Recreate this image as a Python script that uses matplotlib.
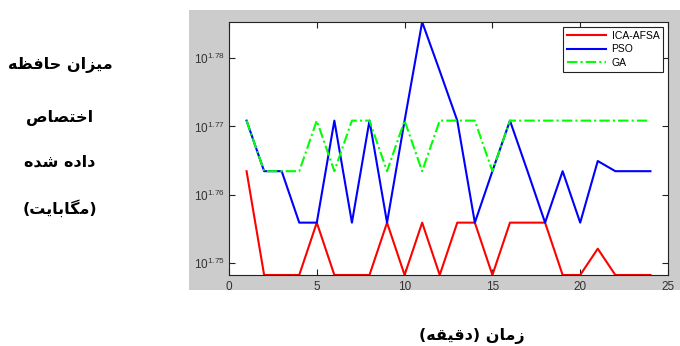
import matplotlib
matplotlib.use("Agg")
import matplotlib.pyplot as plt
from matplotlib.patches import Rectangle
from matplotlib.ticker import FixedLocator, FixedFormatter, NullLocator

# ---------------- data ----------------
minutes = list(range(1, 25))
ica_afsa = [58, 56, 56, 56, 57, 56, 56, 56, 57, 56, 57, 56, 57, 57, 56, 57, 57, 57, 56, 56, 56.5, 56, 56, 56]
pso = [59, 58, 58, 57, 57, 59, 57, 59, 57, 59, 61, 60, 59, 57, 58, 59, 58, 57, 58, 57, 58.2, 58, 58, 58]
ga = [59, 58, 58, 58, 59, 58, 59, 59, 58, 59, 58, 59, 59, 59, 58, 59, 59, 59, 59, 59, 59, 59, 59, 59]
series_names = ["ICA-AFSA", "PSO", "GA"]
x_ticks = [0, 5, 10, 15, 20, 25]
y_tick_exponents = [1.75, 1.76, 1.77, 1.78]
y_label_lines = ["میزان حافظه", "اختصاص", "داده شده", "(مگابایت)"]
x_label = "زمان (دقیقه)"

# ------------- simple Arabic-script shaping for display -------------
FORMS = {
    'ا': ('\uFE8D', '\uFE8E', None, None),
    'ب': ('\uFE8F', '\uFE90', '\uFE91', '\uFE92'),
    'ت': ('\uFE95', '\uFE96', '\uFE97', '\uFE98'),
    'ح': ('\uFEA1', '\uFEA2', '\uFEA3', '\uFEA4'),
    'خ': ('\uFEA5', '\uFEA6', '\uFEA7', '\uFEA8'),
    'د': ('\uFEA9', '\uFEAA', None, None),
    'ز': ('\uFEAF', '\uFEB0', None, None),
    'ش': ('\uFEB5', '\uFEB6', '\uFEB7', '\uFEB8'),
    'ص': ('\uFEB9', '\uFEBA', '\uFEBB', '\uFEBC'),
    'ظ': ('\uFEC5', '\uFEC6', '\uFEC7', '\uFEC8'),
    'ف': ('\uFED1', '\uFED2', '\uFED3', '\uFED4'),
    'ق': ('\uFED5', '\uFED6', '\uFED7', '\uFED8'),
    'م': ('\uFEE1', '\uFEE2', '\uFEE3', '\uFEE4'),
    'ن': ('\uFEE5', '\uFEE6', '\uFEE7', '\uFEE8'),
    'ه': ('\uFEE9', '\uFEEA', '\uFEEB', '\uFEEC'),
    'ی': ('\uFBFC', '\uFBFD', '\uFBFE', '\uFBFF'),
    'گ': ('\uFB92', '\uFB93', '\uFB94', '\uFB95'),
}


def rtl(text):
    out = []
    n = len(text)
    for i, c in enumerate(text):
        if c not in FORMS:
            out.append(c)
            continue
        iso, fin, ini, med = FORMS[c]
        prev = text[i - 1] if i > 0 else ''
        nxt = text[i + 1] if i < n - 1 else ''
        pj = prev in FORMS and FORMS[prev][2] is not None
        nj = nxt in FORMS and ini is not None
        if pj and nj:
            out.append(med)
        elif pj:
            out.append(fin)
        elif nj:
            out.append(ini)
        else:
            out.append(iso)
    vis = ''.join(reversed(out))
    mirror = {'(': ')', ')': '('}
    return ''.join(mirror.get(ch, ch) for ch in vis)


plt.rcParams['font.family'] = ['Liberation Sans', 'DejaVu Sans']
plt.rcParams['mathtext.fontset'] = 'custom'
plt.rcParams['mathtext.rm'] = 'Liberation Sans'
plt.rcParams['mathtext.it'] = 'Liberation Sans'

W, H = 680, 346
fig = plt.figure(figsize=(W / 100, H / 100), dpi=100)
fig.patch.set_facecolor('white')
fig.patches.append(Rectangle((189 / W, 1 - 290 / H), 1 - 189 / W, 280 / H,
                             transform=fig.transFigure, facecolor='#cccccc',
                             edgecolor='none', zorder=-10))

ax = fig.add_axes([229 / W, 1 - 275 / H, (668 - 229) / W, (275 - 22) / H])
ax.set_zorder(5)
ax.set_facecolor('white')

lw = 1.5
ax.plot(minutes, ica_afsa, color=(1, 0, 0), lw=lw, label=series_names[0])
ax.plot(minutes, pso, color=(0, 0, 1), lw=lw, label=series_names[1])
ax.plot(minutes, ga, color=(0, 1, 0), lw=lw, dashes=(5, 1.5, 1, 1.5), label=series_names[2])

ax.set_yscale('log')
ax.set_xlim(0, 25)
ax.set_ylim(min(ica_afsa), max(pso))
ax.set_xticks(x_ticks)
ax.set_xticklabels([str(t) for t in x_ticks])
ax.yaxis.set_major_locator(FixedLocator([10 ** e for e in y_tick_exponents]))
ax.yaxis.set_major_formatter(FixedFormatter([r'$10^{%.2f}$' % e for e in y_tick_exponents]))
ax.yaxis.set_minor_locator(NullLocator())
ax.xaxis.set_minor_locator(NullLocator())

ax.tick_params(direction='in', length=4, width=0.8, top=True, right=True,
               colors='#222222', labelcolor='#333333')
ax.tick_params(axis='x', labelsize=8.5, pad=4)
ax.tick_params(axis='y', labelsize=8.5, pad=3)
for s in ax.spines.values():
    s.set_color('#222222')
    s.set_linewidth(0.8)

leg = ax.legend(loc='upper right', bbox_to_anchor=((663 - 229) / 439, (275 - 27) / 253),
                borderaxespad=0, fancybox=False, framealpha=1, fontsize=7.5,
                handlelength=3.8, handletextpad=0.5, labelspacing=0.35,
                borderpad=0.35)
leg.get_frame().set_edgecolor('#222222')
leg.get_frame().set_linewidth(0.8)

for txt, y in zip(y_label_lines, [65, 118, 162, 208]):
    fig.text(60 / W, 1 - y / H, rtl(txt), ha='center', va='center',
             fontsize=11.5, fontweight='bold', family=['DejaVu Sans'])

fig.text(472 / W, 1 - 336 / H, rtl(x_label), ha='center', va='center',
         fontsize=11.5, fontweight='bold', family=['DejaVu Sans'])

fig.savefig('out.png', dpi=100)
